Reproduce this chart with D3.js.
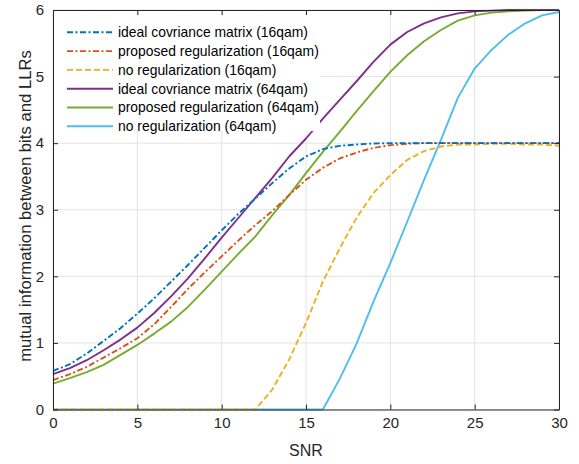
<!DOCTYPE html>
<html><head><meta charset="utf-8">
<script src="https://cdn.jsdelivr.net/npm/d3@7"></script>
<style>body{margin:0;background:#fff}svg{display:block;font-family:"Liberation Sans",Arial,Helvetica,sans-serif}</style>
</head><body><svg id="c" width="579" height="464"></svg>
<script>
const snr = d3.range(0, 31);
const ideal16 = [0.58,0.68,0.84,1.03,1.22,1.44,1.67,1.92,2.17,2.43,2.69,2.94,3.17,3.40,3.62,3.80,3.91,3.96,3.98,3.995,4.0,4.0,4.0,4.0,4.0,4.0,4.0,4.0,4.0,4.0,4.0];
const prop16 = [0.44,0.53,0.64,0.78,0.92,1.07,1.28,1.54,1.81,2.06,2.30,2.54,2.77,2.98,3.22,3.45,3.63,3.77,3.86,3.93,3.97,3.99,4.0,4.0,4.0,4.0,4.0,4.0,4.0,4.0,4.0];
const noreg16 = [0,0,0,0,0,0,0,0,0,0,0,0,0,0.30,0.75,1.30,1.92,2.42,2.88,3.25,3.52,3.75,3.88,3.95,3.98,3.98,3.99,3.99,3.98,3.98,3.96];
const ideal64 = [0.53,0.62,0.74,0.89,1.05,1.23,1.45,1.70,1.97,2.27,2.58,2.88,3.18,3.48,3.80,4.07,4.37,4.65,4.93,5.22,5.48,5.67,5.80,5.89,5.95,5.98,5.99,6.0,6.0,6.0,6.0];
const prop64 = [0.39,0.47,0.56,0.67,0.82,0.97,1.14,1.32,1.54,1.80,2.07,2.34,2.60,2.92,3.22,3.55,3.87,4.17,4.48,4.78,5.07,5.32,5.53,5.70,5.84,5.92,5.96,5.98,5.99,6.0,6.0];
const noreg64 = [0,0,0,0,0,0,0,0,0,0,0,0,0,0,0,0,0,0.46,0.99,1.62,2.20,2.82,3.45,4.05,4.68,5.12,5.40,5.63,5.80,5.92,5.97];
const seriesNames = ["ideal covriance matrix (16qam)","proposed regularization (16qam)","no regularization (16qam)","ideal covriance matrix (64qam)","proposed regularization (64qam)","no regularization (64qam)"];
const xTicks = [0,5,10,15,20,25,30];
const yTicks = [0,1,2,3,4,5,6];

const series = [
  {name: seriesNames[0], v: ideal16, color: "#0072BD", dash: "6,2.5,2,2.5"},
  {name: seriesNames[1], v: prop16, color: "#D95319", dash: "6,2.5,2,2.5"},
  {name: seriesNames[2], v: noreg16, color: "#EDB120", dash: "6,3"},
  {name: seriesNames[3], v: ideal64, color: "#7E2F8E", dash: null},
  {name: seriesNames[4], v: prop64, color: "#77AC30", dash: null},
  {name: seriesNames[5], v: noreg64, color: "#4DBEEE", dash: null}
];

const L = 53, R = 559, T = 10, B = 409.5;
const svg = d3.select("#c");
const x = d3.scaleLinear().domain([0,30]).range([L,R]);
const y = d3.scaleLinear().domain([0,6]).range([B,T]);
const axc = "#262626";

// grid
const g = svg.append("g");
g.selectAll(".gx").data(xTicks).join("line").attr("x1",d=>x(d)).attr("x2",d=>x(d)).attr("y1",T).attr("y2",B).attr("stroke","#e3e3e3").attr("stroke-width",1);
g.selectAll(".gy").data(yTicks).join("line").attr("y1",d=>y(d)).attr("y2",d=>y(d)).attr("x1",L).attr("x2",R).attr("stroke","#e3e3e3").attr("stroke-width",1);

// lines
const line = d3.line().x((d,i)=>x(snr[i])).y(d=>y(d));
svg.append("g").selectAll("path").data(series.slice().reverse()).join("path")
  .attr("d", d=>line(d.v)).attr("fill","none").attr("stroke",d=>d.color)
  .attr("stroke-width",1.9).attr("stroke-dasharray",d=>d.dash).attr("stroke-linejoin","round");

// axes
const fmt = d3.format("d");
const axBottom = d3.axisBottom(x).tickValues(xTicks).tickFormat(fmt).tickSize(-5).tickSizeOuter(0).tickPadding(8);
const axTop = d3.axisTop(x).tickValues(xTicks).tickSize(-5).tickSizeOuter(0).tickFormat("");
const axLeft = d3.axisLeft(y).tickValues(yTicks).tickFormat(fmt).tickSize(-5).tickSizeOuter(0).tickPadding(9);
const axRight = d3.axisRight(y).tickValues(yTicks).tickSize(-5).tickSizeOuter(0).tickFormat("");
function style(sel){sel.select(".domain").attr("stroke",axc).attr("stroke-width",1);sel.selectAll(".tick line").attr("stroke",axc);sel.selectAll("text").attr("fill",axc).attr("font-size",15).attr("font-family","Liberation Sans, Arial, sans-serif");}
svg.append("g").attr("transform",`translate(0,${B})`).call(axBottom).call(style);
svg.append("g").attr("transform",`translate(0,${T})`).call(axTop).call(style);
svg.append("g").attr("transform",`translate(${L},0)`).call(axLeft).call(style);
svg.append("g").attr("transform",`translate(${R},0)`).call(axRight).call(style);

// axis labels
svg.append("text").attr("x",(L+R)/2).attr("y",456).attr("text-anchor","middle").attr("font-size",16).attr("fill",axc).text("SNR");
svg.append("text").attr("transform",`translate(30.5,206) rotate(-90)`).attr("text-anchor","middle").attr("font-size",16.7).attr("fill",axc).text("mutual information between bits and LLRs");

// legend
const lg = svg.append("g");
lg.append("rect").attr("x",L+1).attr("y",15).attr("width",266).attr("height",116).attr("fill","#fff");
const rows = lg.selectAll(".row").data(series).join("g").attr("transform",(d,i)=>`translate(0,${32.3+i*18.8})`);
rows.append("line").attr("x1",67).attr("x2",113).attr("y1",0).attr("y2",0).attr("stroke",d=>d.color).attr("stroke-width",1.9).attr("stroke-dasharray",d=>d.dash);
rows.append("text").attr("x",118).attr("y",0).attr("dy","0.35em").attr("font-size",13.9).attr("fill","#000").text(d=>d.name);
</script></body></html>
